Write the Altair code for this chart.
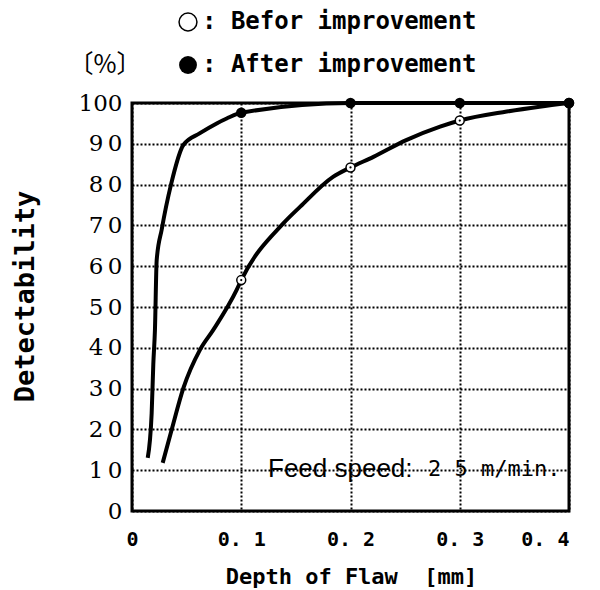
import altair as alt
import pandas as pd

# Curve traces (depth of flaw [mm], detectability [%])
after_x = [0.0144, 0.018, 0.0195, 0.021, 0.0226, 0.0272, 0.0357, 0.047, 0.0622, 0.0775, 0.0867, 0.1, 0.2, 0.3, 0.4]
after_y = [13, 24, 36, 44.4, 61.5, 69, 80, 89.7, 92.6, 95, 96.2, 97.6, 100, 100, 100]
before_x = [0.0281, 0.0363, 0.047, 0.0622, 0.0744, 0.0958, 0.1, 0.1385, 0.154, 0.184, 0.2, 0.221, 0.251, 0.282, 0.3, 0.343, 0.373, 0.4]
before_y = [11.8, 19.9, 30.1, 39.5, 44.4, 54.2, 56.6, 70.5, 74.6, 81.9, 84.2, 86.8, 90.9, 94.2, 95.7, 97.9, 99.1, 100]

# Measured points
marker_depth = [0.1, 0.2, 0.3, 0.4]
marker_after = [97.6, 100, 100, 100]
marker_before = [56.6, 84.2, 95.7, 100]

x_ticks = [0, 0.1, 0.2, 0.3, 0.4]
y_ticks = [0, 10, 20, 30, 40, 50, 60, 70, 80, 90, 100]

FONT = "DejaVu Sans Mono"
SERIF = "DejaVu Serif"

after_df = pd.DataFrame({"x": after_x, "y": after_y, "o": range(len(after_x))})
before_df = pd.DataFrame({"x": before_x, "y": before_y, "o": range(len(before_x))})
mk_after = pd.DataFrame({"x": marker_depth, "y": marker_after})
mk_before = pd.DataFrame({"x": marker_depth, "y": marker_before})

xs = alt.Scale(domain=[0, 0.4], nice=False, zero=False)
ys = alt.Scale(domain=[0, 100], nice=False)

xax = alt.Axis(values=x_ticks, grid=True, gridColor="black", gridDash=[2, 2], gridWidth=2,
               ticks=False, domain=False, labelFont=FONT, labelFontWeight="bold", labelFontSize=20,
               labelColor="black", labelPadding=18, labelFlush=False,
               labelAlign=alt.ExprRef(expr="datum.value >= 0.4 ? 'right' : 'center'"),
               labelExpr="datum.value == 0 ? '0' : '0. ' + substring(format(datum.value, '.1f'), 2)",
               title="Depth of Flaw\u00a0\u00a0[mm]", titleFont=FONT, titleFontSize=22, titleFontWeight="bold",
               titleColor="black", titleX=219, titleY=65, titleBaseline="middle", titleAlign="center")
yax = alt.Axis(values=y_ticks, grid=True, gridColor="black", gridDash=[2, 2], gridWidth=2,
               ticks=False, domain=False, labelFont=SERIF, labelFontWeight="normal", labelFontSize=23,
               labelColor="black", labelPadding=10,
               labelExpr="datum.value == 100 || datum.value == 0 ? datum.label : substring(datum.label, 0, 1) + '\u2009' + substring(datum.label, 1)",
               title="Detectability", titleFont=FONT, titleFontSize=27, titleFontWeight="bold",
               titleColor="black", titleAngle=270, titleX=-107, titleY=193,
               titleBaseline="middle", titleAlign="center")

base_after = alt.Chart(after_df).mark_line(color="black", strokeWidth=4, interpolate="monotone").encode(
    x=alt.X("x:Q", scale=xs, axis=xax), y=alt.Y("y:Q", scale=ys, axis=yax), order="o:Q")
base_before = alt.Chart(before_df).mark_line(color="black", strokeWidth=4, interpolate="monotone").encode(
    x=alt.X("x:Q", scale=xs), y=alt.Y("y:Q", scale=ys), order="o:Q")

pts_after = alt.Chart(mk_after).mark_point(shape="circle", filled=True, color="black", size=110, opacity=1).encode(
    x=alt.X("x:Q", scale=xs), y=alt.Y("y:Q", scale=ys))
pts_before = alt.Chart(mk_before).mark_point(shape="circle", filled=True, fill="white", stroke="black",
                                             strokeWidth=1.5, size=80, opacity=1).encode(
    x=alt.X("x:Q", scale=xs), y=alt.Y("y:Q", scale=ys))
pts_before_dot = alt.Chart(mk_before).mark_point(shape="circle", filled=True, color="black", size=5, opacity=1).encode(
    x=alt.X("x:Q", scale=xs), y=alt.Y("y:Q", scale=ys))

def label(txt, px, py, font=FONT, size=20, weight="bold", align="left"):
    return alt.Chart(pd.DataFrame({"t": [txt]})).mark_text(
        font=font, fontSize=size, fontWeight=weight, align=align, baseline="middle", color="black"
    ).encode(text="t:N", x=alt.value(px), y=alt.value(py))

leg_open = alt.Chart(pd.DataFrame({"a": [0]})).mark_point(shape="circle", filled=False, color="black",
                                                          strokeWidth=1.5, size=320, opacity=1).encode(
    x=alt.value(56), y=alt.value(-81))
leg_fill = alt.Chart(pd.DataFrame({"a": [0]})).mark_point(shape="circle", filled=True, color="black",
                                                          size=320, opacity=1).encode(
    x=alt.value(56), y=alt.value(-38))

texts = [
    label(": Befor improvement", 70, -81, size=24),
    label(": After improvement", 70, -38, size=24),
    label("〔%〕", -27, -38, font="Noto Sans CJK JP", size=25, weight="normal", align="center"),
    label("Feed speed:", 136, 366, font="Liberation Sans", size=26, weight="normal"),
    label("2 5 m/min.", 296, 366, size=22, weight="normal"),
]

chart = alt.layer(base_after, base_before, pts_before, pts_before_dot, pts_after, leg_open, leg_fill, *texts).properties(
    width=437, height=408,
    autosize=alt.AutoSizeParams(type="none"),
    padding={"left": 124, "top": 95, "right": 20, "bottom": 78},
    background="white",
).configure_view(stroke="black", strokeWidth=3)

chart.save("out.html", embed_options={"renderer": "svg", "actions": False})
